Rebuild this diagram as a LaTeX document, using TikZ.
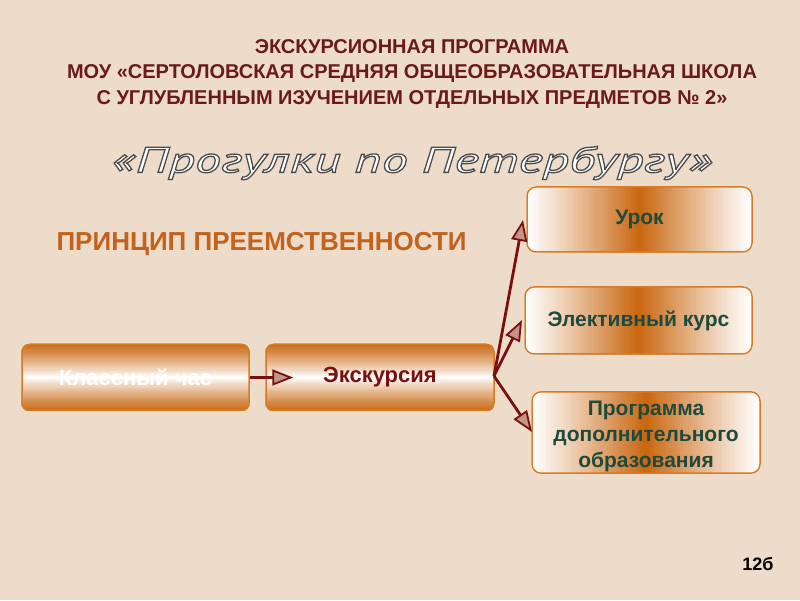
\documentclass[tikz,border=0pt]{standalone}
\usepackage{fontspec}
\setmainfont{Liberation Sans}
\newfontfamily\bigfont[FakeStretch=1.45]{PT Sans Italic}
\usetikzlibrary{arrows.meta,calc}
\definecolor{bg}{HTML}{ECDCC9}
\definecolor{org}{HTML}{C9660F}
\definecolor{bord}{HTML}{D77C26}
\definecolor{dred}{HTML}{7A0F10}
\definecolor{teal}{HTML}{1E4A3E}
\definecolor{ttlred}{HTML}{6A1A18}
\definecolor{ttlorg}{HTML}{C2621C}
\pgfdeclarelayer{back}
\pgfsetlayers{back,main}
\tikzset{
  vbox/.style={draw=bord, line width=1.5pt, rounded corners=8pt, minimum height=66pt, font=\bfseries\fontsize{22}{26}\selectfont},
  hbox/.style={draw=bord, line width=1.5pt, rounded corners=9pt, align=center, text=teal, font=\bfseries\fontsize{21}{26}\selectfont},
  arr/.style={draw=dred, line width=2.8pt, -{Triangle[length=21pt,width=16pt,fill=dred!35!bg,line width=1.8pt]}},
  ttl/.style={font=\bfseries\fontsize{20}{25.5}\selectfont, align=center, text=ttlred},
}
% vertical gradient (orange-white-orange) behind node #1
\newcommand{\vgrad}[2]{%
  \begin{pgfonlayer}{back}
  \begin{scope}
  \clip[rounded corners=#2] (#1.south west) rectangle (#1.north east);
  \foreach \i in {0,...,59}{%
    \pgfmathsetmacro\pc{100*abs((\i+0.5)/30-1)^0.9}%
    \pgfmathsetmacro\fa{\i/60}%
    \pgfmathsetmacro\fb{(\i+1.3)/60}%
    \fill[org!\pc!white] ($(#1.south west)!\fa!(#1.north west)$) rectangle ($(#1.south east)!\fb!(#1.north east)$);
  }
  \end{scope}
  \end{pgfonlayer}}
\newcommand{\hgrad}[2]{%
  \begin{pgfonlayer}{back}
  \begin{scope}
  \clip[rounded corners=#2] (#1.south west) rectangle (#1.north east);
  \foreach \i in {0,...,79}{%
    \pgfmathsetmacro\pc{100*(1-abs((\i+0.5)/40-1))^1.1}%
    \pgfmathsetmacro\fa{\i/80}%
    \pgfmathsetmacro\fb{(\i+1.3)/80}%
    \fill[org!\pc!white] ($(#1.south west)!\fa!(#1.south east)$) rectangle ($(#1.north west)!\fb!(#1.north east)$);
  }
  \end{scope}
  \end{pgfonlayer}}
\begin{document}
\begin{tikzpicture}[x=1pt,y=1pt]
\begin{pgfonlayer}{back}
\fill[bg] (0,0) rectangle (800,600);
\end{pgfonlayer}
\useasboundingbox (0,0) rectangle (800,600);
% header
\node[ttl] (title) at (412,526) {ЭКСКУРСИОННАЯ ПРОГРАММА\\МОУ «СЕРТОЛОВСКАЯ СРЕДНЯЯ ОБЩЕОБРАЗОВАТЕЛЬНАЯ ШКОЛА\\С УГЛУБЛЕННЫМ ИЗУЧЕНИЕМ ОТДЕЛЬНЫХ ПРЕДМЕТОВ № 2»};
% big italic outlined title
\node[font=\bigfont\fontsize{36}{40}\selectfont, text=white] (big) at (412,437) {\special{pdf:literal direct 2 Tr 1.3 w 0.3 0.3 0.3 RG}«Прогулки по Петербургу»\special{pdf:literal direct 0 Tr}};
% principle
\node[font=\bfseries\fontsize{26}{30}\selectfont, text=ttlorg, anchor=west] (pr) at (53,356) {ПРИНЦИП ПРЕЕМСТВЕННОСТИ};
% boxes
\node[vbox, minimum width=227pt, text=white] (kl) at (135.5,222.5) {Классный час};
\node[vbox, minimum width=228pt, text=dred] (ex) at (380,222.5) {Экскурсия};
\node[hbox, minimum width=225pt, minimum height=65pt] (ur) at (639.5,380.5) {Урок};
\node[hbox, minimum width=227pt, minimum height=67pt] (el) at (638.5,279.5) {Элективный курс};
\node[hbox, minimum width=228pt, minimum height=79pt, inner sep=1pt] (pd) at (646,167.5) {\rule{0pt}{23pt}Программа\\дополнительного\\образования};
\vgrad{kl}{8pt}
\vgrad{ex}{8pt}
\hgrad{ur}{9pt}
\hgrad{el}{9pt}
\hgrad{pd}{9pt}
% connectors
\coordinate (ekr) at (494,224);
\coordinate (t1) at (523,380);
\coordinate (t2) at (522,280);
\coordinate (t3) at (532,168);
\draw[arr] (kl.east) -- ([xshift=28pt]ex.west);
\draw[arr] (ekr) -- (t1);
\draw[arr] (ekr) -- (t2);
\draw[arr] (ekr) -- (t3);
% page number
\node[font=\bfseries\fontsize{18}{20}\selectfont] (pg) at (758,36) {12б};
\end{tikzpicture}
\end{document}
